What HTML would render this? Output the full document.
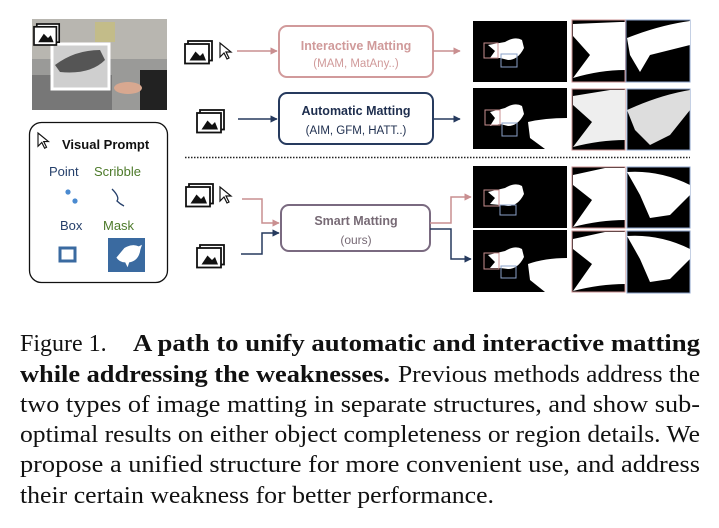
<!DOCTYPE html>
<html><head><meta charset="utf-8"><style>
body{margin:0;background:#fff;width:719px;height:528px;overflow:hidden}
svg{display:block}
.sans{font-family:"Liberation Sans","DejaVu Sans",sans-serif}
.serif{font-family:"Liberation Serif",serif;font-size:24px;fill:#111}
</style></head><body>
<svg width="719" height="528" viewBox="0 0 719 528" xmlns="http://www.w3.org/2000/svg">
<defs>
<marker id="ap" viewBox="0 0 10 10" refX="9" refY="5" markerWidth="5" markerHeight="5" orient="auto"><path d="M0,0L10,5L0,10z" fill="#c98f90"/></marker>
<marker id="an" viewBox="0 0 10 10" refX="9" refY="5" markerWidth="5" markerHeight="5" orient="auto"><path d="M0,0L10,5L0,10z" fill="#263a5e"/></marker>
<g id="imgs">
<rect x="2" y="0" width="16" height="13" fill="#fff" stroke="#111" stroke-width="1.2"/>
<rect x="0" y="2" width="16" height="13" fill="#fff" stroke="#111" stroke-width="1.2"/>
<path d="M3,13L7,7L10,10L12,8L14,13z" fill="#111"/>
</g>
<g id="cur"><path d="M0,0L0,14L4,10L7,16L9,15L6,9L11,9z" fill="#fff" stroke="#111" stroke-width="1.2"/></g>
<g id="bird"><path d="M8,22L18,10Q28,4 36,8L40,6L38,12Q36,26 24,28L22,34L19,28Q12,28 8,22z" fill="#fff"/></g>
</defs>

<!-- photo -->
<rect x="32" y="19" width="135" height="91" fill="#9a9a98"/>
<rect x="32" y="19" width="135" height="40" fill="#b8b6b0"/>
<rect x="95" y="22" width="20" height="20" fill="#c9c070" opacity=".6"/>
<rect x="32" y="75" width="80" height="35" fill="#777"/>
<rect x="140" y="70" width="27" height="40" fill="#222"/>
<ellipse cx="128" cy="88" rx="14" ry="6" fill="#d8a890"/>
<rect x="52" y="44" width="57" height="45" fill="#cfcfcf" stroke="#fff" stroke-width="3"/>
<path d="M55,65Q75,50 100,50L105,60Q90,75 60,72z" fill="#555"/>
<use href="#imgs" transform="translate(34,24) scale(1.4)"/>

<!-- visual prompt -->
<rect x="29.5" y="122.5" width="138" height="160" rx="12" fill="#fff" stroke="#111" stroke-width="1.3"/>
<use href="#cur" transform="translate(38,133) scale(0.95)"/>
<text x="62" y="149" class="sans" font-size="13" font-weight="bold" fill="#111">Visual Prompt</text>
<text x="49" y="176" class="sans" font-size="13" fill="#26406b">Point</text>
<text x="94" y="176" class="sans" font-size="13" fill="#4d7a2a">Scribble</text>
<circle cx="68" cy="192" r="2.6" fill="#4a8ad0"/><circle cx="75" cy="201" r="2.6" fill="#4a8ad0"/>
<path d="M112,189Q120,197 117,201Q120,204 124,206" fill="none" stroke="#26406b" stroke-width="1.3"/>
<text x="60" y="230" class="sans" font-size="13" fill="#26406b">Box</text>
<text x="103" y="230" class="sans" font-size="13" fill="#4d7a2a">Mask</text>
<rect x="60" y="248" width="15" height="13" fill="none" stroke="#3a6aa0" stroke-width="3"/>
<rect x="108" y="238" width="37" height="34" fill="#3a6aa0"/>
<use href="#bird" transform="translate(110,240) scale(0.8)"/>

<!-- left icons -->
<use href="#imgs" transform="translate(185,41) scale(1.5)"/><use href="#cur" transform="translate(220,43)"/>
<use href="#imgs" transform="translate(197,110) scale(1.5)"/>
<use href="#imgs" transform="translate(186,184) scale(1.5)"/><use href="#cur" transform="translate(220,187)"/>
<use href="#imgs" transform="translate(197,245) scale(1.5)"/>

<!-- boxes -->
<rect x="279" y="26" width="154" height="51" rx="8" fill="#fff" stroke="#d19a9b" stroke-width="2"/>
<text x="356" y="50" text-anchor="middle" class="sans" font-size="12.5" font-weight="bold" fill="#d09a9a">Interactive Matting</text>
<text x="356" y="67" text-anchor="middle" class="sans" font-size="11.5" fill="#d09a9a">(MAM, MatAny..)</text>
<rect x="279" y="93" width="154" height="51" rx="8" fill="#fff" stroke="#263a5e" stroke-width="2"/>
<text x="356" y="115" text-anchor="middle" class="sans" font-size="12.5" font-weight="bold" fill="#1e2e4e">Automatic Matting</text>
<text x="356" y="134" text-anchor="middle" class="sans" font-size="11.5" fill="#1e2e4e">(AIM, GFM, HATT..)</text>
<rect x="281" y="205" width="149" height="46" rx="8" fill="#fff" stroke="#7a6a80" stroke-width="2"/>
<text x="356" y="225" text-anchor="middle" class="sans" font-size="12.5" font-weight="bold" fill="#776a75">Smart Matting</text>
<text x="356" y="244" text-anchor="middle" class="sans" font-size="12" fill="#776a75">(ours)</text>

<!-- connectors -->
<path d="M237,51H277" stroke="#c98f90" stroke-width="1.5" fill="none" marker-end="url(#ap)"/>
<path d="M433,51H460" stroke="#c98f90" stroke-width="1.5" fill="none" marker-end="url(#ap)"/>
<path d="M238,119H277" stroke="#263a5e" stroke-width="1.5" fill="none" marker-end="url(#an)"/>
<path d="M433,119H460" stroke="#263a5e" stroke-width="1.5" fill="none" marker-end="url(#an)"/>
<path d="M242,199H262V223H279" stroke="#c98f90" stroke-width="1.5" fill="none" marker-end="url(#ap)"/>
<path d="M241,254H262V233H279" stroke="#263a5e" stroke-width="1.5" fill="none" marker-end="url(#an)"/>
<path d="M430,223H451V197H471" stroke="#c98f90" stroke-width="1.5" fill="none" marker-end="url(#ap)"/>
<path d="M430,229H451V259H471" stroke="#263a5e" stroke-width="1.5" fill="none" marker-end="url(#an)"/>
<line x1="185" y1="157.5" x2="690" y2="157.5" stroke="#222" stroke-width="1.5" stroke-dasharray="1.5,1.5"/>

<!-- results -->
<g>
<rect x="473" y="21" width="94" height="61" fill="#000"/>
<rect x="473" y="88" width="94" height="61" fill="#000"/>
<rect x="473" y="166" width="94" height="62" fill="#000"/>
<rect x="473" y="230" width="94" height="62" fill="#000"/>
<g fill="#fff">
<path d="M488,45L505,42Q515,36 522,40L524,48Q518,60 508,60L500,58L490,58L495,51z"/>
<path d="M490,112L505,108Q515,102 522,106L524,114Q518,126 508,126L500,124L490,126L495,118z"/>
<path d="M528,122Q545,118 567,118V149H545L530,138z"/>
<path d="M488,192L505,188Q515,182 522,186L524,194Q518,206 508,206L500,205L490,204L495,198z"/>
<path d="M488,255L505,251Q515,245 522,249L524,257Q518,269 508,269L500,268L490,268L495,262z"/>
<path d="M528,264Q545,258 567,258V292H545L530,280z"/>
</g>
<g fill="none" stroke-width="1">
<rect x="484" y="43" width="14" height="15" stroke="#c98f90"/><rect x="501" y="54" width="16" height="13" stroke="#8aa0c8"/>
<rect x="485" y="110" width="15" height="15" stroke="#c98f90"/><rect x="502" y="123" width="15" height="13" stroke="#8aa0c8"/>
<rect x="484" y="190" width="15" height="16" stroke="#c98f90"/><rect x="500" y="205" width="16" height="10" stroke="#8aa0c8"/>
<rect x="484" y="253" width="15" height="16" stroke="#c98f90"/><rect x="501" y="266" width="15" height="12" stroke="#8aa0c8"/>
</g>
<g stroke-width="1">
<rect x="572" y="20" width="53" height="62" fill="#000" stroke="#c98f90"/>
<rect x="626" y="20" width="64" height="62" fill="#000" stroke="#8aa0c8"/>
<rect x="572" y="89" width="53" height="61" fill="#000" stroke="#c98f90"/>
<rect x="627" y="89" width="63" height="61" fill="#000" stroke="#8aa0c8"/>
<rect x="572" y="167" width="53" height="61" fill="#000" stroke="#c98f90"/>
<rect x="627" y="167" width="63" height="61" fill="#000" stroke="#8aa0c8"/>
<rect x="572" y="231" width="53" height="61" fill="#000" stroke="#c98f90"/>
<rect x="627" y="231" width="63" height="62" fill="#000" stroke="#8aa0c8"/>
</g>
<g fill="#fff">
<path d="M573,24L620,22H625V70Q600,70 573,78L590,55L573,36z"/>
<path d="M627,38Q660,25 690,21V45L650,55L640,72L630,55z"/>
<path d="M573,96L610,90H625V140Q600,140 573,147L592,122L573,105z" fill="#eee"/>
<path d="M627,110Q660,95 690,90V110L670,135L650,145L635,130z" fill="#ddd"/>
<path d="M573,175L605,168H625V220Q600,220 573,227L592,200L573,185z"/>
<path d="M627,172Q660,170 690,185V195L670,215L650,218L640,195z"/>
<path d="M573,239L605,232H625V284Q600,284 573,291L592,264L573,249z"/>
<path d="M627,236Q660,234 690,249V259L670,279L650,282L640,259z"/>
</g>
</g>

<!-- caption -->
<text class="serif" y="351"><tspan x="20">Figure 1.</tspan></text>
<text class="serif" x="133" y="351" font-weight="bold" textLength="567" lengthAdjust="spacingAndGlyphs">A path to unify automatic and interactive matting</text>
<text class="serif" x="20" y="382" font-weight="bold" textLength="370" lengthAdjust="spacingAndGlyphs">while addressing the weaknesses.</text>
<text class="serif" x="398" y="382" textLength="302" lengthAdjust="spacingAndGlyphs">Previous methods address the</text>
<text class="serif" x="20" y="412" textLength="680" lengthAdjust="spacingAndGlyphs">two types of image matting in separate structures, and show sub-</text>
<text class="serif" x="20" y="442" textLength="680" lengthAdjust="spacingAndGlyphs">optimal results on either object completeness or region details. We</text>
<text class="serif" x="20" y="472" textLength="680" lengthAdjust="spacingAndGlyphs">propose a unified structure for more convenient use, and address</text>
<text class="serif" x="20" y="503" textLength="474" lengthAdjust="spacingAndGlyphs">their certain weakness for better performance.</text>
</svg>
</body></html>
